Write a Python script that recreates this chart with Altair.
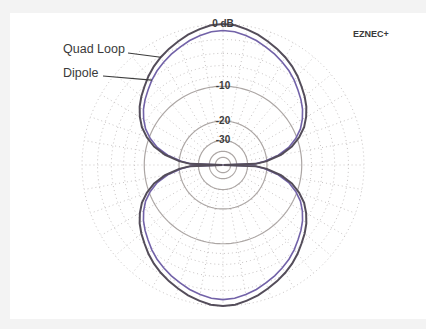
import altair as alt
import numpy as np
import pandas as pd

# Azimuth (degrees from broadside) for one quadrant; the pattern is symmetric
angles = [0, 5, 10, 15, 20, 25, 30, 35, 40, 45, 50, 55, 60, 65, 70, 75, 80, 85, 88, 90]
quad_loop_db = [0.0, -0.1, -0.4, -0.75, -1.2, -1.65, -2.15, -2.7, -3.35, -4.1,
                -4.8, -5.6, -6.6, -7.8, -9.5, -11.7, -15.0, -20.0, -25.0, -99.0]
dipole_db = [-0.8, -0.9, -1.2, -1.55, -2.0, -2.45, -2.95, -3.5, -4.15, -4.9,
             -5.6, -6.4, -7.4, -8.6, -10.3, -12.5, -15.8, -20.8, -25.8, -99.0]

solid_rings = [-10, -20, -30, -40, -50]
dotted_rings = [0, -2, -4, -6, -8]
ring_labels = ["-10", "-20", "-30"]
ring_label_db = [-10, -20, -30]
spoke_step = 10

R = 141.0  # outer (0 dB) ring radius in scale units


def arrl_radius(db):
    # ARRL log scale: radius shrinks by 0.89 for every 2 dB
    return R * 0.89 ** (-np.asarray(db, dtype=float) / 2.0)


def full_pattern(vals):
    pairs = list(zip(angles, vals))
    az, v = [], []
    for a, d in pairs:
        az.append(a); v.append(d)
    for a, d in pairs[::-1][1:]:
        az.append(180 - a); v.append(d)
    for a, d in pairs[1:]:
        az.append(180 + a); v.append(d)
    for a, d in pairs[::-1][1:]:
        az.append(360 - a); v.append(d)
    return np.array(az, dtype=float), np.array(v)


rows = []
for name, vals in [("Quad Loop", quad_loop_db), ("Dipole", dipole_db)]:
    az, v = full_pattern(vals)
    r = arrl_radius(v)
    for i, (a, rr) in enumerate(zip(az, r)):
        t = np.radians(a)
        rows.append({"series": name, "i": i, "x": rr * np.sin(t), "y": rr * np.cos(t)})
pattern = pd.DataFrame(rows)


def ring_frame(levels):
    out = []
    th = np.radians(np.arange(0, 361, 2))
    for lv in levels:
        rr = float(arrl_radius(lv))
        for i, t in enumerate(th):
            out.append({"ring": lv, "i": i, "x": rr * np.sin(t), "y": rr * np.cos(t)})
    return pd.DataFrame(out)


solid_df = ring_frame(solid_rings)
dotted_df = ring_frame(dotted_rings)

spk = []
r_in, r_out = float(arrl_radius(-30)), R
for a in range(0, 360, spoke_step):
    t = np.radians(a)
    for i, rr in enumerate([r_in, r_out]):
        spk.append({"spoke": a, "i": i, "x": rr * np.sin(t), "y": rr * np.cos(t)})
spokes = pd.DataFrame(spk)

xs = alt.Scale(domain=[-213, 203], nice=False, zero=False)
ys = alt.Scale(domain=[-154, 152], nice=False, zero=False)
X = lambda f="x": alt.X(f"{f}:Q", scale=xs, axis=None)
Y = lambda f="y": alt.Y(f"{f}:Q", scale=ys, axis=None)

grid_color = "#c8c4c4"

dotted_layer = alt.Chart(dotted_df).mark_line(
    color=grid_color, strokeWidth=1, strokeDash=[1, 3]
).encode(x=X(), y=Y(), detail="ring:N", order="i:Q")

spoke_layer = alt.Chart(spokes).mark_line(
    color=grid_color, strokeWidth=1, strokeDash=[1, 3]
).encode(x=X(), y=Y(), detail="spoke:N", order="i:Q")

solid_layer = alt.Chart(solid_df).mark_line(
    color="#aca6a4", strokeWidth=1.2
).encode(x=X(), y=Y(), detail="ring:N", order="i:Q")

quad_layer = alt.Chart(pattern[pattern.series == "Quad Loop"]).mark_line(
    color="#544d5a", strokeWidth=2
).encode(x=X(), y=Y(), order="i:Q")

dipole_layer = alt.Chart(pattern[pattern.series == "Dipole"]).mark_line(
    color="#7262a8", strokeWidth=1.6
).encode(x=X(), y=Y(), order="i:Q")

# ring captions along the vertical axis
lab_df = pd.DataFrame({"text": ["0 dB"] + ring_labels,
                       "x": [0.0] * 4,
                       "y": [R] + [float(arrl_radius(d)) for d in ring_label_db]})
ring_text = alt.Chart(lab_df).mark_text(
    font="Liberation Sans", fontSize=10, fontWeight="bold", color="#3c3c3c",
    align="center", baseline="middle"
).encode(x=X(), y=Y(), text="text:N")

# series captions with leader lines to their traces
q_idx, d_idx = angles.index(30), angles.index(40)
q_end_r = float(arrl_radius(quad_loop_db[q_idx]))
d_end_r = float(arrl_radius(dipole_db[d_idx]))
lead = pd.DataFrame([
    {"k": "q", "i": 0, "x": -95, "y": 112},
    {"k": "q", "i": 1, "x": -q_end_r * np.sin(np.radians(30)), "y": q_end_r * np.cos(np.radians(30))},
    {"k": "d", "i": 0, "x": -120, "y": 89},
    {"k": "d", "i": 1, "x": -d_end_r * np.sin(np.radians(40)), "y": d_end_r * np.cos(np.radians(40))},
])
leaders = alt.Chart(lead).mark_line(color="#3c3c3c", strokeWidth=1.2).encode(
    x=X(), y=Y(), detail="k:N", order="i:Q")

names = pd.DataFrame({"text": ["Quad Loop", "Dipole"], "x": [-160, -160], "y": [116, 92]})
name_text = alt.Chart(names).mark_text(
    font="Liberation Sans", fontSize=12.5, color="#3a3a3a", align="left", baseline="middle"
).encode(x=X(), y=Y(), text="text:N")

brand = alt.Chart(pd.DataFrame({"text": ["EZNEC+"], "x": [130], "y": [131]})).mark_text(
    font="Liberation Sans", fontSize=9, fontWeight="bold", color="#3a3a3a",
    align="left", baseline="middle"
).encode(x=X(), y=Y(), text="text:N")

chart = alt.layer(
    dotted_layer, spoke_layer, solid_layer, dipole_layer, quad_layer,
    ring_text, leaders, name_text, brand
).properties(
    width=416, height=306,
    padding={"left": 10, "top": 13, "right": 0, "bottom": 10},
    autosize=alt.AutoSizeParams(type="none"),
    background="#f3f3f3",
).configure_view(fill="#ffffff", stroke=None)

chart.save("out.html", embed_options={"renderer": "svg", "actions": False})
